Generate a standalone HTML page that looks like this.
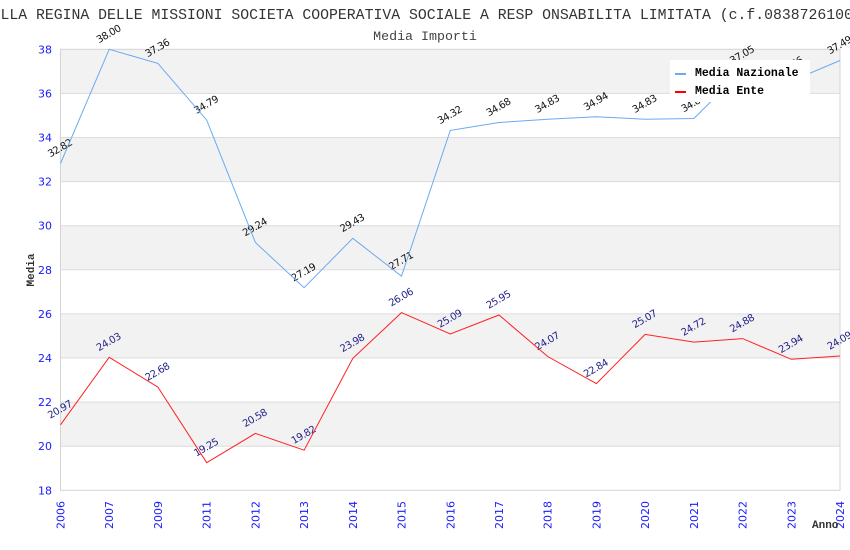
<!DOCTYPE html>
<html><head><meta charset="utf-8">
<style>
html,body{margin:0;padding:0;background:#fff;}
svg{display:block;}
</style></head>
<body>
<svg width="850" height="550" viewBox="0 0 850 550" xmlns="http://www.w3.org/2000/svg">
<rect width="850" height="550" fill="#fff"/>
<!-- title -->
<text x="0.5" y="19" font-family="Liberation Mono, monospace" font-size="14.8" fill="#333">LLA REGINA DELLE MISSIONI SOCIETA COOPERATIVA SOCIALE A RESP ONSABILITA LIMITATA (c.f.08387261006)</text>
<text x="425" y="40" text-anchor="middle" font-family="Liberation Mono, monospace" font-size="13.3" fill="#444">Media Importi</text>

<!-- bands -->
<g fill="#f2f2f2">
<rect x="60.5" y="49.3" width="779.5" height="44.1"/>
<rect x="60.5" y="137.5" width="779.5" height="44.1"/>
<rect x="60.5" y="225.7" width="779.5" height="44.1"/>
<rect x="60.5" y="313.9" width="779.5" height="44.1"/>
<rect x="60.5" y="402.1" width="779.5" height="44.1"/>
</g>
<g stroke="#dcdcdc" stroke-width="1">
<line x1="60.5" x2="840" y1="93.4" y2="93.4"/>
<line x1="60.5" x2="840" y1="137.5" y2="137.5"/>
<line x1="60.5" x2="840" y1="181.6" y2="181.6"/>
<line x1="60.5" x2="840" y1="225.7" y2="225.7"/>
<line x1="60.5" x2="840" y1="269.8" y2="269.8"/>
<line x1="60.5" x2="840" y1="313.9" y2="313.9"/>
<line x1="60.5" x2="840" y1="358.0" y2="358.0"/>
<line x1="60.5" x2="840" y1="402.1" y2="402.1"/>
<line x1="60.5" x2="840" y1="446.2" y2="446.2"/>
</g>
<rect x="60.5" y="49.3" width="779.5" height="441" fill="none" stroke="#d4d4d4" stroke-width="1"/>

<!-- y tick labels -->
<g font-family="DejaVu Sans, sans-serif" font-size="11" fill="#1a1aff" text-anchor="end">
<text x="52" y="53.3">38</text>
<text x="52" y="97.4">36</text>
<text x="52" y="141.5">34</text>
<text x="52" y="185.6">32</text>
<text x="52" y="229.7">30</text>
<text x="52" y="273.8">28</text>
<text x="52" y="317.9">26</text>
<text x="52" y="362.0">24</text>
<text x="52" y="406.1">22</text>
<text x="52" y="450.2">20</text>
<text x="52" y="494.3">18</text>
</g>

<!-- x tick labels -->
<g font-family="DejaVu Sans, sans-serif" font-size="11" fill="#1a1aff">
<text transform="translate(64.5,529) rotate(-90)">2006</text>
<text transform="translate(113.2,529) rotate(-90)">2007</text>
<text transform="translate(161.9,529) rotate(-90)">2009</text>
<text transform="translate(210.7,529) rotate(-90)">2011</text>
<text transform="translate(259.4,529) rotate(-90)">2012</text>
<text transform="translate(308.1,529) rotate(-90)">2013</text>
<text transform="translate(356.8,529) rotate(-90)">2014</text>
<text transform="translate(405.5,529) rotate(-90)">2015</text>
<text transform="translate(454.3,529) rotate(-90)">2016</text>
<text transform="translate(503.0,529) rotate(-90)">2017</text>
<text transform="translate(551.7,529) rotate(-90)">2018</text>
<text transform="translate(600.4,529) rotate(-90)">2019</text>
<text transform="translate(649.1,529) rotate(-90)">2020</text>
<text transform="translate(697.9,529) rotate(-90)">2021</text>
<text transform="translate(746.6,529) rotate(-90)">2022</text>
<text transform="translate(795.3,529) rotate(-90)">2023</text>
<text transform="translate(844.0,529) rotate(-90)">2024</text>
</g>

<!-- axis titles -->
<text x="812" y="528" font-family="Liberation Mono, monospace" font-weight="bold" font-size="11" fill="#333">Anno</text>
<text transform="translate(34,270) rotate(-90)" text-anchor="middle" font-family="Liberation Mono, monospace" font-weight="bold" font-size="11" fill="#333">Media</text>

<!-- value labels Nazionale -->
<g font-family="DejaVu Sans, sans-serif" font-size="10" letter-spacing="-0.5" fill="#111" text-anchor="middle">
<text transform="translate(61.5,151) rotate(-30)">32.82</text>
<text transform="translate(110.2,36.8) rotate(-30)">38.00</text>
<text transform="translate(158.9,50.9) rotate(-30)">37.36</text>
<text transform="translate(207.7,107.6) rotate(-30)">34.79</text>
<text transform="translate(256.4,230) rotate(-30)">29.24</text>
<text transform="translate(305.1,275.2) rotate(-30)">27.19</text>
<text transform="translate(353.8,225.8) rotate(-30)">29.43</text>
<text transform="translate(402.5,263.7) rotate(-30)">27.71</text>
<text transform="translate(451.3,117.9) rotate(-30)">34.32</text>
<text transform="translate(500.0,110) rotate(-30)">34.68</text>
<text transform="translate(548.7,106.7) rotate(-30)">34.83</text>
<text transform="translate(597.4,104.3) rotate(-30)">34.94</text>
<text transform="translate(646.1,106.7) rotate(-30)">34.83</text>
<text transform="translate(694.9,106) rotate(-30)">34.86</text>
<text transform="translate(743.6,57.7) rotate(-30)">37.05</text>
<text transform="translate(792.3,68.6) rotate(-30)">36.56</text>
<text transform="translate(841,48) rotate(-30)">37.49</text>
</g>

<!-- value labels Ente -->
<g font-family="DejaVu Sans, sans-serif" font-size="10" letter-spacing="-0.5" fill="#22228a" text-anchor="middle">
<text transform="translate(61.5,412.3) rotate(-30)">20.97</text>
<text transform="translate(110.2,344.8) rotate(-30)">24.03</text>
<text transform="translate(158.9,374.6) rotate(-30)">22.68</text>
<text transform="translate(207.7,450.2) rotate(-30)">19.25</text>
<text transform="translate(256.4,420.9) rotate(-30)">20.58</text>
<text transform="translate(305.1,437.7) rotate(-30)">19.82</text>
<text transform="translate(353.8,345.9) rotate(-30)">23.98</text>
<text transform="translate(402.5,300.1) rotate(-30)">26.06</text>
<text transform="translate(451.3,321.5) rotate(-30)">25.09</text>
<text transform="translate(500.0,302.5) rotate(-30)">25.95</text>
<text transform="translate(548.7,344) rotate(-30)">24.07</text>
<text transform="translate(597.4,371.1) rotate(-30)">22.84</text>
<text transform="translate(646.1,321.9) rotate(-30)">25.07</text>
<text transform="translate(694.9,329.6) rotate(-30)">24.72</text>
<text transform="translate(743.6,326.1) rotate(-30)">24.88</text>
<text transform="translate(792.3,346.8) rotate(-30)">23.94</text>
<text transform="translate(841,343.5) rotate(-30)">24.09</text>
</g>

<!-- series lines -->
<polyline fill="none" stroke="#6aaaf0" stroke-width="1" points="60.5,163.5 109.2,49.3 157.9,63.4 206.7,120.1 255.4,242.5 304.1,287.7 352.8,238.3 401.5,276.2 450.3,130.4 499.0,122.5 547.7,119.2 596.4,116.8 645.1,119.2 693.9,118.5 742.6,70.2 791.3,81.1 840,60.5"/>
<polyline fill="none" stroke="#ff2020" stroke-width="1" points="60.5,424.8 109.2,357.3 157.9,387.1 206.7,462.7 255.4,433.4 304.1,450.2 352.8,358.4 401.5,312.6 450.3,334.0 499.0,315.0 547.7,356.5 596.4,383.6 645.1,334.4 693.9,342.1 742.6,338.6 791.3,359.3 840,356.0"/>

<!-- legend -->
<rect x="670" y="60" width="140" height="42" fill="#fff"/>
<rect x="675" y="73" width="11" height="2" fill="#6aaaf0"/>
<rect x="675" y="91" width="11" height="2" fill="#ff0000"/>
<g font-family="Liberation Mono, monospace" font-weight="bold" font-size="11.5" fill="#000">
<text x="695" y="76">Media Nazionale</text>
<text x="695" y="94">Media Ente</text>
</g>
</svg>
</body></html>
